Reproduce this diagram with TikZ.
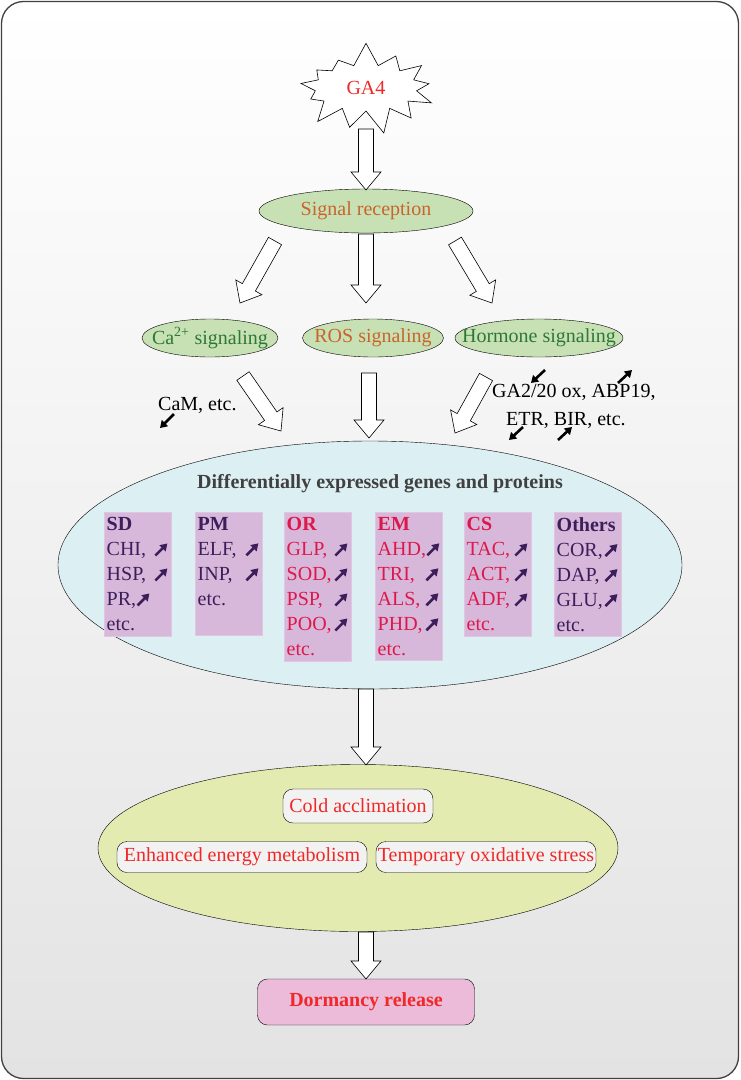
\documentclass[tikz,border=0pt]{standalone}
\usepackage{fontspec}
\setmainfont{Liberation Serif}
\usetikzlibrary{shapes.symbols,shapes.geometric,calc,arrows.meta}

\definecolor{gared}{RGB}{240,40,40}
\definecolor{sigorange}{RGB}{200,100,45}
\definecolor{siggreen}{RGB}{200,225,180}
\definecolor{sigtext}{RGB}{45,120,55}
\definecolor{degblue}{RGB}{220,239,243}
\definecolor{boxlilac}{RGB}{216,184,218}
\definecolor{darkpurple}{RGB}{60,30,90}
\definecolor{crimson}{RGB}{220,25,75}
\definecolor{endyellow}{RGB}{228,235,176}
\definecolor{dormpink}{RGB}{235,187,217}

\tikzset{
  frame/.style={draw=black!75, line width=1.3pt, rounded corners=22pt,
    top color=white, bottom color=black!11},
  burst/.style={starburst, draw=black, fill=white, line width=0.6pt,
    minimum width=150pt, minimum height=94pt, starburst points=13,
    starburst point height=24pt, random starburst=7, inner sep=0pt,
    text=gared, font=\fontsize{20}{22}\selectfont},
  sigell/.style={ellipse, draw=black, fill=siggreen, inner sep=0pt,
    font=\fontsize{20}{22}\selectfont},
  anno/.style={font=\fontsize{20}{25}\selectfont, inner sep=0pt, align=center},
  gbox/.style={anchor=north west, fill=boxlilac, draw=boxlilac!80!white,
    inner xsep=2.5pt, inner ysep=5pt, text width=62pt, align=left,
    font=\fontsize{20}{25}\selectfont},
  endbox/.style={draw=black, fill=white!95!black, rounded corners=10pt,
    inner sep=0pt, text=gared, font=\fontsize{20}{22}\selectfont},
  fatar/.style={draw=black, fill=white, line width=0.6pt},
  minarr/.style={-{Triangle[length=7pt,width=8.5pt]}, line width=2.6pt}
}

% hollow block arrow from #1 to #2
\newcommand{\fatarrow}[2]{%
  \coordinate (hb) at ($(#2)!18pt!(#1)$);
  \draw[fatar] ($(#1)!7.5pt!90:(#2)$) -- ($(hb)!7.5pt!90:(#2)$)
    -- ($(hb)!15pt!90:(#2)$) -- (#2) -- ($(hb)!15pt!-90:(#2)$)
    -- ($(hb)!7.5pt!-90:(#2)$) -- ($(#1)!7.5pt!-90:(#2)$) -- cycle;}
% small up arrow inside the gene boxes
\newcommand{\upar}{\tikz[x=1pt,y=1pt,baseline=0pt]
  \draw[minarr, draw=darkpurple, line width=2.6pt] (0,0) -- (12,12);}
\newcommand{\gar}{\nobreak\hskip 0pt plus 1fill\upar}

\begin{document}
\begin{tikzpicture}[x=1pt,y=-1pt]
\useasboundingbox (0,0) rectangle (740,1080);
\draw[frame] (1.5,1.5) rectangle (738.5,1078.5);

%% signal
\node[burst] (ga) at (366,88) {GA4};
\node[sigell, minimum width=214pt, minimum height=44pt, text=sigorange] (sig) at (366,211) {\makebox[0pt]{Signal reception}};
\node[sigell, minimum width=136pt, minimum height=38pt, text=sigtext] (ca) at (210,338) {\makebox[0pt]{Ca\textsuperscript{2+} signaling}};
\node[sigell, minimum width=141pt, minimum height=38pt, text=sigorange] (ros) at (373,338) {\makebox[0pt]{ROS signaling}};
\node[sigell, minimum width=168pt, minimum height=38pt, text=sigtext] (horm) at (539,338) {\makebox[0pt]{Hormone signaling}};

\node[anno, anchor=west] (cam) at (158,405) {CaM, etc.};
\node[anno, anchor=west] (gaox) at (492,392) {GA2/20 ox, ABP19,};
\node[anno, anchor=west] (etr) at (506,420) {ETR, BIR, etc.};
\draw[minarr] (174,414) -- (160,428);
\draw[minarr] (545,370) -- (531,383);
\draw[minarr] (618,383) -- (632,370);
\draw[minarr] (523,427) -- (509,440);
\draw[minarr] (558,440) -- (572,427);

%% genes and proteins
\node[ellipse, draw=black, fill=degblue, minimum width=624pt, minimum height=248pt, inner sep=0pt] (deg) at (370,565) {};
\node[font=\fontsize{20}{22}\selectfont\bfseries, text=black!75] (degt) at (380,484) {Differentially expressed genes and proteins};

\node[gbox, text=darkpurple] (sd) at (104,512) {\textbf{SD}\\CHI,\gar\\HSP,\gar\\PR,\upar\\etc.};
\node[gbox, text=darkpurple] (pm) at (195,512) {\textbf{PM}\\ELF,\gar\\INP,\gar\\etc.\\\mbox{}};
\node[gbox, text=crimson] (or) at (284,512) {\textbf{OR}\\GLP,\gar\\SOD,\gar\\PSP,\gar\\POO,\gar\\etc.};
\node[gbox, text=crimson] (em) at (375,512) {\textbf{EM}\\AHD,\gar\\TRI,\gar\\ALS,\gar\\PHD,\gar\\etc.};
\node[gbox, text=crimson] (cs) at (464,512) {\textbf{CS}\\TAC,\gar\\ACT,\gar\\ADF,\gar\\etc.};
\node[gbox, text=darkpurple] (oth) at (554,512) {\textbf{Others}\\COR,\gar\\DAP,\gar\\GLU,\gar\\etc.};

%% effects
\node[ellipse, draw=black, fill=endyellow, minimum width=520pt, minimum height=167pt, inner sep=0pt] (eff) at (358,848) {};
\node[endbox, minimum width=150pt, minimum height=34pt] (cold) at (358,806) {Cold acclimation};
\node[endbox, minimum width=250pt, minimum height=31pt] (enh) at (242,857) {Enhanced energy metabolism};
\node[endbox, minimum width=220pt, minimum height=31pt] (tmp) at (486,857) {Temporary oxidative stress};
\node[endbox, fill=dormpink, minimum width=217pt, minimum height=46pt, font=\fontsize{20}{22}\selectfont\bfseries] (dorm) at (366,1002) {Dormancy release};

%% arrows
\coordinate (g1) at (366,129); \coordinate (g2) at (366,190);
\coordinate (c1) at (366,234); \coordinate (c2) at (366,303);
\coordinate (l1) at (275,241); \coordinate (l2) at (240,303);
\coordinate (r1) at (455,241); \coordinate (r2) at (492,303);
\coordinate (l3) at (243,376); \coordinate (l4) at (281,431);
\coordinate (c3) at (369,373); \coordinate (c4) at (369,438);
\coordinate (r3) at (486,377); \coordinate (r4) at (455,433);
\coordinate (c5) at (366,689); \coordinate (c6) at (366,765);
\coordinate (c7) at (366,932); \coordinate (c8) at (366,979);
\fatarrow{g1}{g2}
\fatarrow{c1}{c2}
\fatarrow{l1}{l2}
\fatarrow{r1}{r2}
\fatarrow{l3}{l4}
\fatarrow{c3}{c4}
\fatarrow{r3}{r4}
\fatarrow{c5}{c6}
\fatarrow{c7}{c8}
\end{tikzpicture}
\end{document}
